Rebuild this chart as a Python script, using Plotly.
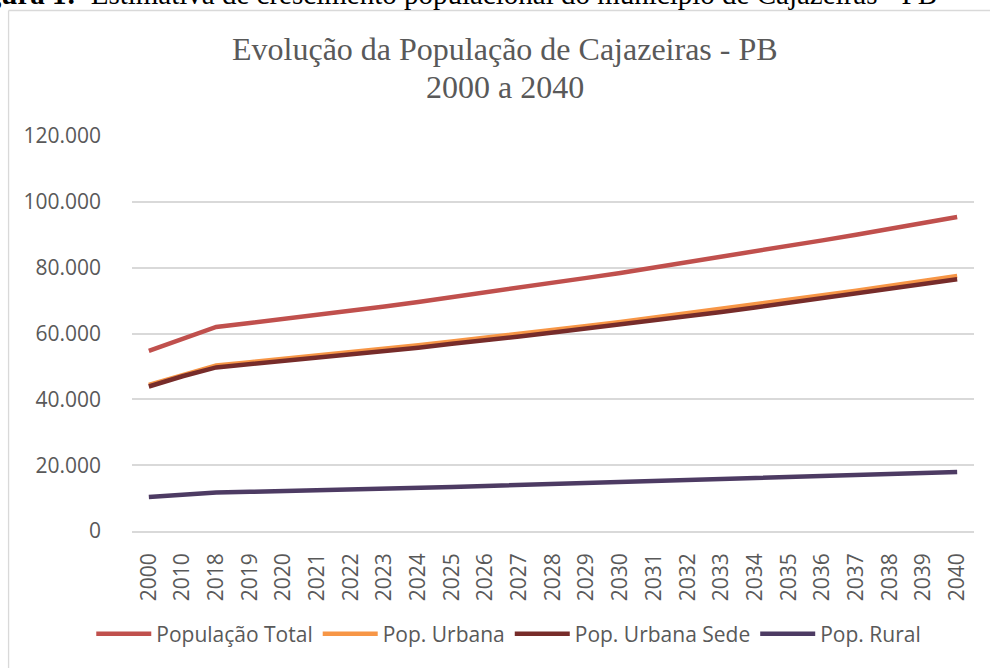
import plotly.graph_objects as go

years = ["2000", "2010"] + [str(y) for y in range(2018, 2041)]

pop_total = [54700, 58400, 62000, 63200, 64400, 65600, 66900, 68200, 69600, 71000,
             72400, 73900, 75400, 76900, 78400, 80000, 81600, 83200, 84900, 86600,
             88300, 90000, 91800, 93600, 95400]
pop_urbana = [44400, 47500, 50300, 51300, 52300, 53200, 54300, 55300, 56400, 57600,
              58700, 59900, 61100, 62300, 63500, 64800, 66100, 67400, 68800, 70200,
              71600, 73000, 74500, 76000, 77500]
pop_sede = [43900, 47000, 49700, 50700, 51700, 52500, 53600, 54600, 55700, 56900,
            57900, 59100, 60300, 61500, 62700, 64000, 65200, 66500, 67900, 69300,
            70700, 72100, 73500, 75000, 76500]
pop_rural = [10300, 10900, 11700, 11900, 12100, 12400, 12600, 12900, 13200, 13400,
             13700, 14000, 14300, 14600, 14900, 15200, 15500, 15800, 16100, 16400,
             16700, 17000, 17300, 17600, 17900]

y_ticks = [0, 20000, 40000, 60000, 80000, 100000, 120000]

series = [
    ("População Total", pop_total, "#C0504D"),
    ("Pop. Urbana", pop_urbana, "#F79646"),
    ("Pop. Urbana Sede", pop_sede, "#772C2A"),
    ("Pop. Rural", pop_rural, "#4D3B63"),
]

fig = go.Figure()
for name, vals, col in series:
    fig.add_trace(go.Scatter(x=years, y=vals, name=name, mode="lines",
                             line=dict(color=col, width=4.5)))

W, H = 990, 668
L, R, T, B = 132, 15.5, 136, 137
pw, ph = W - L - R, H - T - B

def px(xp):  # page pixel x -> paper
    return (xp - L) / pw

def py(yp):  # page pixel y -> paper
    return (H - B - yp) / ph

txt = "#595959"
fig.update_layout(
    width=W, height=H,
    margin=dict(l=L, r=R, t=T, b=B, autoexpand=False),
    paper_bgcolor="white", plot_bgcolor="white",
    separators=",.",
    showlegend=True,
    font=dict(family="Open Sans", size=21, color=txt),
    legend=dict(orientation="h", x=px(509), xanchor="center", y=py(634), yanchor="middle",
                font=dict(family="Open Sans", size=21, color=txt),
                itemwidth=55, traceorder="normal", bgcolor="rgba(0,0,0,0)"),
    xaxis=dict(type="category", range=[-0.5, 24.5], tickangle=-90,
               showgrid=False, showline=True, linecolor="#D9D9D9", linewidth=1.5,
               ticks="", ticklabelstandoff=12, tickfont=dict(family="Open Sans", size=21, color=txt)),
    yaxis=dict(range=[0, 120000], tickvals=y_ticks, tickformat=",d",
               showgrid=True, gridcolor="#D9D9D9", gridwidth=1.5, zeroline=False,
               showline=False, ticks="", ticklabelstandoff=30,
               tickfont=dict(family="Open Sans", size=21, color=txt)),
    shapes=[
        dict(type="line", xref="paper", yref="paper",
             x0=px(8.5), x1=px(1000), y0=py(10.5), y1=py(10.5),
             line=dict(color="#D9D9D9", width=1.3), layer="below"),
        dict(type="line", xref="paper", yref="paper",
             x0=px(8.5), x1=px(8.5), y0=py(10.5), y1=py(680),
             line=dict(color="#D9D9D9", width=1.3), layer="below"),
    ],
    annotations=[
        dict(text="Evolução da População de Cajazeiras - PB", xref="paper", yref="paper",
             x=px(505), y=py(49), xanchor="center", yanchor="middle", showarrow=False,
             font=dict(family="Liberation Serif", size=32, color=txt)),
        dict(text="2000 a 2040", xref="paper", yref="paper",
             x=px(505), y=py(87), xanchor="center", yanchor="middle", showarrow=False,
             font=dict(family="Liberation Serif", size=32, color=txt)),
        dict(text="<b>Figura 1:</b>  Estimativa de crescimento populacional do município de Cajazeiras - PB",
             xref="paper", yref="paper", x=px(939), y=py(-6), xanchor="right", yanchor="middle",
             showarrow=False, font=dict(family="Liberation Serif", size=29, color="black")),
    ],
)

fig.write_html("out.html", config={"displayModeBar": False},
               post_script="document.body.style.margin='0px';")
